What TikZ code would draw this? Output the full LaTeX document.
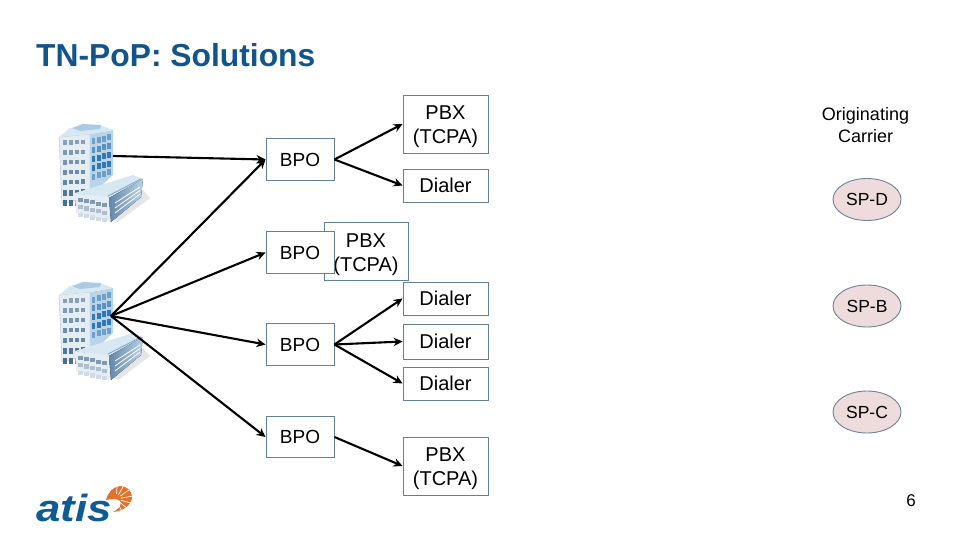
\documentclass[tikz,border=0pt]{standalone}
\usepackage{fontspec}
\setmainfont{Liberation Sans}
\usetikzlibrary{arrows.meta,shapes.geometric}
\definecolor{boxline}{HTML}{5F8299}
\definecolor{titleblue}{HTML}{12558D}
\definecolor{atisblue}{HTML}{0F5C94}
\definecolor{atisorange}{HTML}{E8702A}
\definecolor{spfill}{HTML}{EEDCDC}
\definecolor{spline}{HTML}{6E8296}
\definecolor{winA}{HTML}{4A6F92}
\definecolor{winB}{HTML}{2F5F8E}
\definecolor{winC}{HTML}{2F78B5}
\definecolor{faceA}{HTML}{E4EDF4}
\definecolor{faceB}{HTML}{B9D3E8}
\definecolor{roofA}{HTML}{D8E8F3}
\definecolor{roofB}{HTML}{A9CBE3}
\tikzset{
  boxn/.style={draw=boxline,line width=0.9pt,fill=white,inner sep=0pt,align=center},
  bpo/.style={boxn,minimum width=68pt,minimum height=42pt,font=\fontsize{19}{24}\selectfont},
  pbx/.style={boxn,minimum width=85pt,minimum height=58pt,font=\fontsize{20}{24}\selectfont},
  dialer/.style={boxn,minimum width=85pt,minimum height=33pt,font=\fontsize{20}{24}\selectfont},
  spn/.style={ellipse,draw=spline,line width=0.9pt,fill=spfill,minimum width=68pt,minimum height=42pt,inner sep=0pt,font=\fontsize{17.5}{20}\selectfont},
  conn/.style={line width=2.1pt,-{Stealth[length=9pt,width=8.5pt]}},
}
\newcommand{\bldg}[2]{%
\begin{scope}[shift={(#1,#2)}]
  \fill[black!10] (104,212) -- (143,190) -- (150,198) -- (118,222) -- cycle;
  % tower
  \fill[faceA] (59,137) -- (90,134) -- (90,196) -- (62,204) -- cycle;
  \draw[black!25,line width=0.4pt] (59,137) -- (90,134) -- (90,196) -- (62,204) -- cycle;
  \fill[faceB] (90,134) -- (113,130) -- (113,175) -- (90,196) -- cycle;
  \fill[roofA] (59,137) -- (70,128) -- (100,125) -- (113,130) -- (90,134) -- cycle;
  \fill[roofB] (72,128) -- (83,124) -- (101,125) -- (100,129) -- (80,131) -- cycle;
  \foreach \r/\c in {0/65,1/70,2/75,3/80,4/85,5/95,6/100}{%
    \foreach \q in {0,1,2,3}{%
      \fill[winA!\c!white] ({62.5+\q*6.1},{140.5+\r*9.9-\q*.2}) rectangle ++(4.4,{ifthenelse(\r>4,6.2,4.4)});
    }
  }
  \foreach \r/\c in {0/70,1/80,2/100,3/100,4/70}{%
    \foreach \q in {0,1,2,3}{%
      \fill[winC!\c!white] ({91.5+\q*5.3},{138.5+\r*8.8-\q*1.4}) rectangle ++(3.8,6);
    }
  }
  % low wing
  \fill[roofA] (75,193) -- (133,175) -- (143,179) -- (109,198) -- cycle;
  \draw[winC!60!white,line width=1pt] (108,196) -- (141,179);
  \fill[faceA] (75,193) -- (109,198) -- (111,222) -- (76,213) -- cycle;
  \fill[left color=winB!75!white,right color=faceB] (109,198) -- (143,179) -- (141,197) -- (111,222) -- cycle;
  \foreach \r/\c in {0/70,1/45,2/25}{%
    \foreach \q in {0,1,2,3,4}{%
      \fill[winA!\c!white] ({78+\q*6},{197.5+\r*7.6+\q*1.35}) rectangle ++(4.6,4.2);
    }
  }
  \foreach \k in {0,1,2}{%
    \draw[white,line width=.8pt] (115,{203+\k*5}) -- (140,{187+\k*3.5});
  }
\end{scope}}
\begin{document}
\begin{tikzpicture}[x=1pt,y=-1pt]
\useasboundingbox (0,0) rectangle (960,540);
\fill[white] (0,0) rectangle (960,540);

\node[anchor=west,inner sep=0pt,text=titleblue,font=\fontsize{31.8}{36}\selectfont\bfseries] (title) at (36,55) {TN-PoP: Solutions};

\bldg{0}{0}
\bldg{0}{158}
\coordinate (srcA) at (113,156);
\coordinate (srcB) at (111,316);

\node[pbx] (pbxA) at (445.5,124) {\rule{0pt}{19pt}PBX\\(TCPA)};
\node[dialer] (diaA) at (445.5,185.5) {Dialer};
\node[pbx,minimum width=84pt] (pbxB) at (366,251) {\rule{0pt}{22pt}PBX\\(TCPA)};
\node[dialer] (diaB) at (445.5,298.5) {Dialer};
\node[dialer,minimum height=35pt] (diaC) at (445.5,341.5) {Dialer};
\node[dialer] (diaD) at (445.5,383.5) {Dialer};
\node[pbx] (pbxC) at (445.5,466) {\rule{0pt}{19pt}PBX\\(TCPA)};

\node[bpo] (bpoA) at (300,159.5) {BPO};
\node[bpo] (bpoB) at (300,252.5) {BPO};
\node[bpo] (bpoC) at (300,344.5) {BPO};
\node[bpo,minimum height=41pt] (bpoD) at (300,437) {BPO};

\draw[conn] (srcA) -- (bpoA.west);
\draw[conn] (srcB) -- (bpoA.west);
\draw[conn] (srcB) -- (bpoB.west);
\draw[conn] (srcB) -- (bpoC.west);
\draw[conn] (srcB) -- (bpoD.west);

\draw[conn] (bpoA.east) -- (pbxA.west);
\draw[conn] (bpoA.east) -- (diaA.west);
\draw[conn] (bpoC.east) -- (diaB.west);
\draw[conn] (bpoC.east) -- (diaC.west);
\draw[conn] (bpoC.east) -- (diaD.west);
\draw[conn] (bpoD.east) -- (pbxC.west);

\node[align=center,inner sep=0pt,font=\fontsize{18}{22}\selectfont] (orig) at (865.5,125.5) {Originating\\Carrier};
\node[spn] (spD) at (867,199.5) {SP-D};
\node[spn] (spB) at (867,306) {SP-B};
\node[spn] (spC) at (867,412) {SP-C};

\node[inner sep=0pt,font=\fontsize{17}{19}\selectfont] (pg) at (911,501) {6};

\node[anchor=base west,inner sep=0pt,text=atisblue,font=\fontsize{42}{42}\selectfont\bfseries\itshape] (atis) at (36,521.5) {\scalebox{1.04}[.9]{atis}};
\fill[atisorange] (106,500) .. controls (108,492) and (113,487) .. (120,486) .. controls (127,486) and (132,491) .. (132,497) .. controls (132,504) and (124,511) .. (113,512) .. controls (119,509) and (122,505) .. (120,501) .. controls (117,498) and (111,499) .. (106,500) -- cycle;
\foreach \a in {-65,-40,-15,10,35,60,85}{
  \draw[white,line width=.7pt] (116,499) ++(\a:5pt) -- ++(\a:13pt);
}
\end{tikzpicture}
\end{document}
